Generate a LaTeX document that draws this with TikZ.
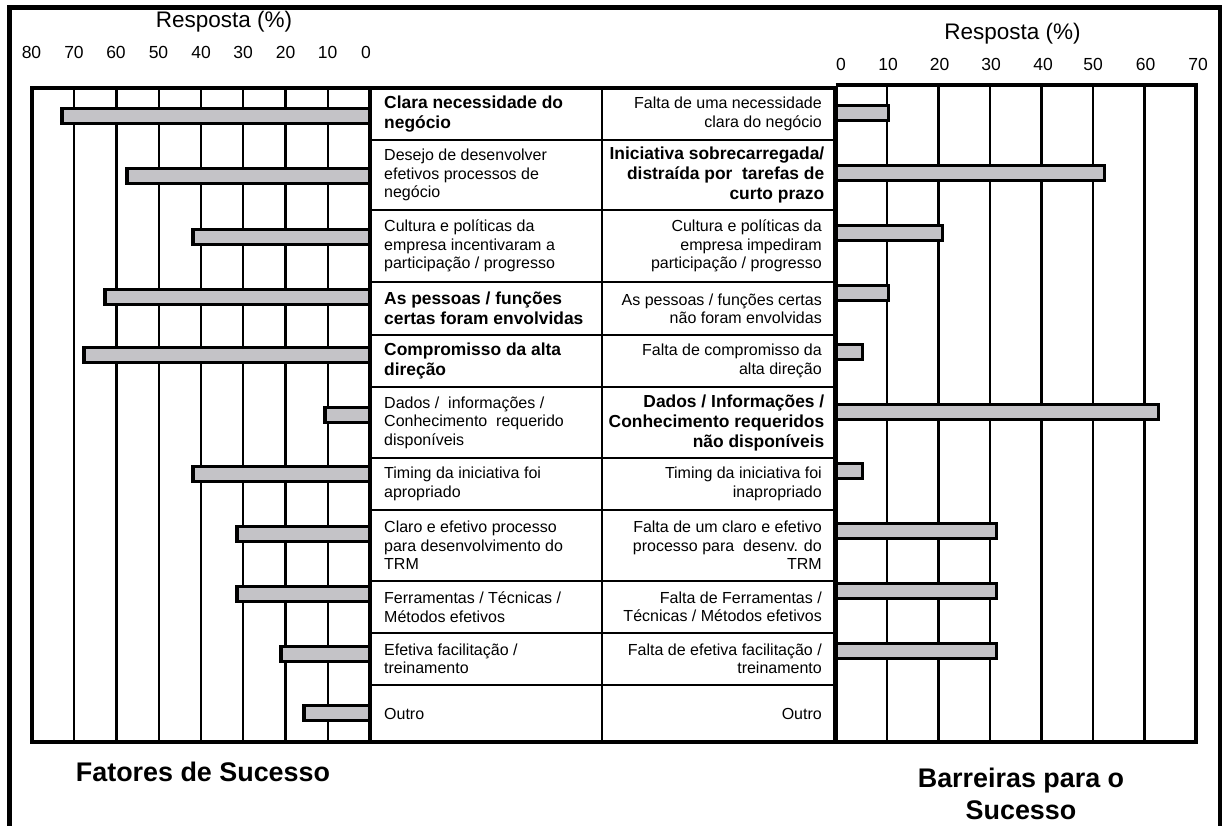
\documentclass[tikz,border=0pt]{standalone}
\usepackage{fontspec}
\setmainfont{Liberation Sans}
\definecolor{barfill}{RGB}{196,195,199}
\newcommand{\cellfont}{\fontsize{16}{18.4}\selectfont}
\newcommand{\cellbold}{\fontsize{17.4}{20}\selectfont\bfseries}
\begin{document}
\begin{tikzpicture}[x=1pt,y=-1pt,
  frame/.style={line width=4.5pt},
  gridline/.style={line width=2.2pt},
  chartbox/.style={line width=4pt},
  tablebox/.style={line width=4.5pt},
  rowline/.style={line width=2.5pt},
  bar/.style={draw=black,fill=barfill,line width=3.5pt},
  cellL/.style={anchor=west,align=left,inner sep=0pt,font=\cellfont},
  cellR/.style={anchor=east,align=right,inner sep=0pt,font=\cellfont},
  boldL/.style={anchor=west,align=left,inner sep=0pt,font=\cellbold},
  boldR/.style={anchor=east,align=right,inner sep=0pt,font=\cellbold},
  axistitle/.style={inner sep=0pt,font=\fontsize{22.5}{26}\selectfont},
  ticklabel/.style={inner sep=0pt,font=\fontsize{17.5}{20}\selectfont},
  caption/.style={inner sep=0pt,align=center,font=\fontsize{26.9}{32.5}\selectfont\bfseries}]
\useasboundingbox (0,0) rectangle (1225,825);

% outer frame (open at the bottom)
\draw[frame] (9.5,830) -- (9.5,7.5) -- (1220,7.5) -- (1220,830);

% ---------- left chart: success factors ----------
\foreach \v in {10,20,...,70}
  \draw[gridline] ({370-4.225*\v},88) -- ({370-4.225*\v},742);
\foreach \xl/\yc [count=\i] in {60/116,125/176,191/237,103/297,82/355,323/415,191/474,235/534,235/594,279/654,302/713}
  \draw[bar] (\xl+1.75,\yc-7.5) rectangle (370,\yc+7.5);
\draw[chartbox] (370,88) -- (32,88) -- (32,742) -- (370,742);

\node[axistitle] (lt) at (224,22) {Resposta (\%)};
\foreach \v/\xp in {80/31.5,70/74,60/116,50/158.5,40/201,30/243,20/285.5,10/327.5,0/366}
  \node[ticklabel] (lk\v) at (\xp,52) {\v};

% ---------- right chart: barriers ----------
\foreach \v in {10,20,...,60}
  \draw[gridline] ({835.5+5.15*\v},85) -- ({835.5+5.15*\v},742);
\foreach \xr/\yc [count=\i] in {890/113,1106/173,944/233,890/293,864/352,1160/412,864/471,998/531,998/591,998/651}
  \draw[bar] (835.5,\yc-7.5) rectangle (\xr-1.75,\yc+7.5);
\draw[chartbox] (835.5,85) -- (1196,85) -- (1196,742) -- (835.5,742);

\node[axistitle] (rt) at (1012.5,34) {Resposta (\%)};
\foreach \v/\xp in {0/841,10/888,20/939.5,30/991,40/1043,50/1093,60/1145.5,70/1198}
  \node[ticklabel] (rk\v) at (\xp,64) {\v};

% ---------- central table ----------
\foreach \y in {140,210,282,335,387,458,510,581,633,685}
  \draw[rowline] (370,\y) -- (835.5,\y);
\draw[rowline] (602,88) -- (602,742);
\draw[tablebox] (370,88) rectangle (835.5,742);

% success factors (left column)
\node[boldL] (f1) at (384,114) {Clara necessidade do\\negócio};
\node[cellL] (f2) at (384,175) {Desejo de desenvolver\\efetivos processos de\\negócio};
\node[cellL] (f3) at (384,246) {Cultura e políticas da\\empresa incentivaram a\\participação / progresso};
\node[boldL] (f4) at (384,308.5) {As pessoas / funções\\certas foram envolvidas};
\node[boldL] (f5) at (384,361) {Compromisso da alta\\direção};
\node[cellL] (f6) at (384,422.5) {Dados /\ \ informações /\\Conhecimento\ \ requerido\\disponíveis};
\node[cellL] (f7) at (384,484) {Timing da iniciativa foi\\apropriado};
\node[cellL] (f8) at (384,545.5) {Claro e efetivo processo\\para desenvolvimento do\\TRM};
\node[cellL] (f9) at (384,607) {Ferramentas / Técnicas /\\Métodos efetivos};
\node[cellL] (f10) at (384,659) {Efetiva facilitação /\\treinamento};
\node[cellL] (f11) at (384,713.5) {Outro};

% barriers (right column)
\node[cellR] (b1) at (822,114) {Falta de uma necessidade\\clara do negócio};
\node[boldR] (b2) at (824.5,175) {Iniciativa sobrecarregada/\\distraída por\ \ tarefas de\\curto prazo};
\node[cellR] (b3) at (822,246) {Cultura e políticas da\\empresa impediram\\participação / progresso};
\node[cellR] (b4) at (822,308.5) {As pessoas / funções certas\\não foram envolvidas};
\node[cellR] (b5) at (822,361) {Falta de compromisso da\\alta direção};
\node[boldR] (b6) at (824.5,422.5) {Dados / Informações /\\Conhecimento requeridos\\não disponíveis};
\node[cellR] (b7) at (822,484) {Timing da iniciativa foi\\inapropriado};
\node[cellR] (b8) at (822,545.5) {Falta de um claro e efetivo\\processo para\ \ desenv. do\\TRM};
\node[cellR] (b9) at (822,607) {Falta de Ferramentas /\\Técnicas / Métodos efetivos};
\node[cellR] (b10) at (822,659) {Falta de efetiva facilitação /\\treinamento};
\node[cellR] (b11) at (822,713.5) {Outro};

% captions
\node[caption] (capL) at (203,772) {Fatores de Sucesso};
\node[caption] (capR) at (1021,794) {Barreiras para o\\Sucesso};
\end{tikzpicture}
\end{document}
